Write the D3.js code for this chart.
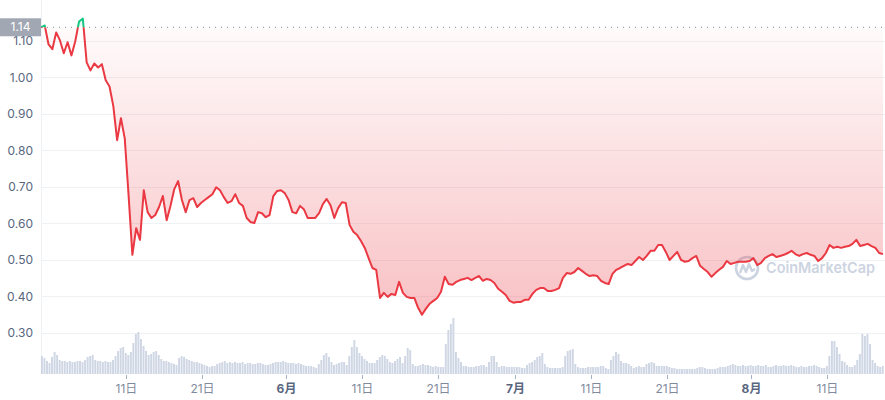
<!DOCTYPE html>
<html><head><meta charset="utf-8">
<script src="https://cdn.jsdelivr.net/npm/d3@7"></script>
<style>body{margin:0;background:#fff;} svg{display:block;font-family:Inter, "Noto Sans CJK SC", sans-serif;}</style>
</head><body><svg id="c" width="885" height="400"></svg>
<script>
const startDate = new Date(2022, 3, 29, 20);
const priceStepHours = 12;
const volumeStepHours = 8;

const prices = [
1.137, 1.142, 1.090, 1.077, 1.123, 1.101, 1.066, 1.096, 1.060, 1.098,
1.153, 1.161, 1.041, 1.019, 1.038, 1.027, 1.036, 0.992, 0.975, 0.921,
0.828, 0.888, 0.833, 0.678, 0.514, 0.587, 0.555, 0.691, 0.631, 0.615,
0.623, 0.645, 0.675, 0.609, 0.648, 0.694, 0.716, 0.664, 0.631, 0.664,
0.669, 0.645, 0.656, 0.664, 0.672, 0.680, 0.699, 0.691, 0.672,
0.656, 0.661, 0.680, 0.656, 0.648, 0.615, 0.604, 0.601, 0.631, 0.628,
0.617, 0.623, 0.675, 0.689, 0.691, 0.683, 0.664, 0.631, 0.628, 0.648,
0.639, 0.615, 0.615, 0.615, 0.628, 0.653, 0.667, 0.650, 0.615, 0.642,
0.658, 0.656, 0.596, 0.577, 0.568, 0.552, 0.533, 0.505, 0.478, 0.473,
0.396, 0.410, 0.399, 0.407, 0.404, 0.440, 0.410, 0.399, 0.396, 0.396,
0.369, 0.350, 0.366, 0.380, 0.388, 0.396, 0.413, 0.454, 0.434, 0.432,
0.440, 0.445, 0.448, 0.451, 0.445, 0.451, 0.456, 0.443, 0.448, 0.445,
0.437, 0.421, 0.413, 0.404, 0.388, 0.383, 0.385, 0.385, 0.391, 0.391,
0.407, 0.418, 0.423, 0.423, 0.415, 0.415, 0.418, 0.423, 0.451, 0.464,
0.462, 0.467, 0.478, 0.470, 0.462, 0.456, 0.458,
0.456, 0.443, 0.437, 0.434, 0.462, 0.473, 0.478, 0.484, 0.489, 0.486,
0.497, 0.508, 0.500, 0.511, 0.525, 0.525, 0.541, 0.541, 0.522, 0.500,
0.511, 0.522, 0.500, 0.495, 0.497, 0.505, 0.511, 0.484, 0.475, 0.467,
0.454, 0.464, 0.473, 0.481, 0.497, 0.489, 0.492, 0.495, 0.495, 0.495,
0.497, 0.505, 0.486, 0.492, 0.505, 0.511, 0.516, 0.508, 0.511, 0.514,
0.519, 0.525, 0.516, 0.511, 0.516, 0.519, 0.514, 0.511, 0.497, 0.505,
0.519, 0.541, 0.533, 0.536, 0.533, 0.536, 0.538, 0.544, 0.555, 0.538,
0.541, 0.544, 0.538, 0.533, 0.519, 0.516
];

const volumes = [
18,16,13,11,17,22,19,14,13,13,
12,13,12,12,13,13,12,14,17,18,
19,14,13,13,12,13,12,12,14,18,
23,26,27,21,19,22,31,40,42,35,
28,23,19,20,22,23,19,15,13,13,12,
11,10,9,16,18,17,15,14,13,12,
12,11,10,9,8,7,8,8,10,11,
12,13,11,12,11,12,11,11,12,10,
11,11,10,10,11,11,10,9,9,10,
11,12,12,12,13,12,11,11,11,10,
11,10,9,8,8,8,7,6,10,14,
19,21,17,12,9,10,11,12,12,9,
18,27,34,27,21,18,15,13,11,11,
11,14,17,19,18,15,12,11,13,15,
17,11,18,26,24,10,8,8,9,10,9,
9,8,7,8,7,7,7,30,44,50,
56,22,16,12,8,8,7,7,7,8,
8,9,9,7,12,18,18,12,7,8,
8,7,7,7,7,7,7,6,6,9,
11,12,14,17,18,21,10,7,6,6,
6,6,6,7,18,23,24,25,10,7,
6,6,6,7,7,7,7,7,8,8,
6,5,14,18,22,20,13,11,11,10,
8,6,7,8,7,7,10,11,12,11,
8,8,8,8,8,7,6,6,5,5,5,
5,5,5,5,5,6,7,7,6,5,
5,5,5,6,7,7,7,8,9,10,
9,8,8,9,8,8,9,8,8,9,
8,8,9,7,7,8,9,8,8,9,
8,8,9,8,7,7,8,7,7,8,
8,9,8,7,6,6,8,18,33,33,
27,20,13,12,9,7,7,9,14,20,
40,38,40,30,14,11,8,7,8
];

const yTicks = [0.30, 0.40, 0.50, 0.60, 0.70, 0.80, 0.90, 1.00, 1.10];
const xTickDates = ["2022-05-11","2022-05-21","2022-06-01","2022-06-11","2022-06-21","2022-07-01","2022-07-11","2022-07-21","2022-08-01","2022-08-11"];
const xTickLabels = ["11日","21日","6月","11日","21日","7月","11日","21日","8月","11日"];
const xTickIsMonth = [false,false,true,false,false,true,false,false,true,false];

const HOUR = 3600 * 1000;
const priceData = prices.map((v, i) => ({date: new Date(startDate.getTime() + i * priceStepHours * HOUR), v}));
const volData = volumes.map((v, i) => ({date: new Date(startDate.getTime() + i * volumeStepHours * HOUR), v}));
const parseDay = d3.timeParse("%Y-%m-%d");

const svg = d3.select("#c");
const left = 41, right = 885;
const x = d3.scaleTime().domain([new Date(2022, 3, 30), new Date(2022, 7, 11)]).range([42.2, 827.1]);
const y = d3.scaleLinear().domain([0.3, 1.1]).range([333, 40.8]);
const yVol = d3.scaleLinear().domain([0, 60]).range([374, 314]);
const base = prices[0];
const yb = y(base);

const defs = svg.append("defs");
const gr = defs.append("linearGradient").attr("id","gRed").attr("gradientUnits","userSpaceOnUse")
  .attr("x1",0).attr("x2",0).attr("y1",yb).attr("y2",330);
gr.append("stop").attr("offset",0).attr("stop-color","#ea3943").attr("stop-opacity",0.02);
gr.append("stop").attr("offset",1).attr("stop-color","#ea3943").attr("stop-opacity",0.33);
const gg = defs.append("linearGradient").attr("id","gGreen").attr("gradientUnits","userSpaceOnUse")
  .attr("x1",0).attr("x2",0).attr("y1",yb).attr("y2",10);
gg.append("stop").attr("offset",0).attr("stop-color","#16c784").attr("stop-opacity",0.05);
gg.append("stop").attr("offset",1).attr("stop-color","#16c784").attr("stop-opacity",0.3);
defs.append("clipPath").attr("id","clipBelow").append("rect").attr("x",0).attr("y",yb).attr("width",885).attr("height",400);
defs.append("clipPath").attr("id","clipAbove").append("rect").attr("x",0).attr("y",0).attr("width",885).attr("height",yb);

// grid
svg.append("g").selectAll("line").data(yTicks).join("line")
  .attr("x1", left).attr("x2", right)
  .attr("y1", d => Math.round(y(d)) + 0.5).attr("y2", d => Math.round(y(d)) + 0.5)
  .attr("stroke", "#eff2f5").attr("stroke-width", 1);
svg.append("line").attr("x1", left + 0.5).attr("x2", left + 0.5).attr("y1", 0).attr("y2", 374)
  .attr("stroke", "#eff2f5");

// y labels
svg.append("g").selectAll("text").data(yTicks).join("text")
  .attr("x", 33).attr("y", d => y(d)).attr("dy", "0.35em")
  .attr("text-anchor", "end").attr("font-size", 12).attr("fill", "#58667e")
  .text(d3.format(".2f"));

// volume bars
const barW = (x(new Date(2022,4,2)) - x(new Date(2022,4,1))) / 3 - 0.6;
svg.append("g").selectAll("rect").data(volData).join("rect")
  .attr("x", d => x(d.date)).attr("width", barW)
  .attr("y", d => yVol(d.v)).attr("height", d => yVol(0) - yVol(d.v))
  .attr("fill", "#cfd6e4");

// x ticks
const xt = svg.append("g");
xTickDates.forEach((s, i) => {
  const px = Math.round(x(parseDay(s))) + 0.5;
  xt.append("line").attr("x1", px).attr("x2", px).attr("y1", 375).attr("y2", 379).attr("stroke", "#a6b0c3");
  xt.append("text").attr("x", px).attr("y", 393).attr("text-anchor", "middle")
    .attr("font-size", 12)
    .attr("font-weight", xTickIsMonth[i] ? 700 : 400)
    .attr("fill", xTickIsMonth[i] ? "#58667e" : "#808a9d")
    .text(xTickLabels[i]);
});

// watermark
const wm = svg.append("g").attr("transform", "translate(747,268)");
wm.append("circle").attr("r", 11).attr("fill", "none").attr("stroke", "#cdd4e1").attr("stroke-width", 2.6);
wm.append("path").attr("d", "M-7,5 L-4,-3 L-1,4 L2,-4 L5,3 L8,1")
  .attr("fill", "none").attr("stroke", "#cdd4e1").attr("stroke-width", 2.4).attr("stroke-linejoin", "round");
wm.append("text").attr("x", 19).attr("y", 0).attr("dy", "0.36em").attr("font-size", 15)
  .attr("font-weight", 600).attr("fill", "#cdd4e1")
  .attr("textLength", 109).attr("lengthAdjust", "spacingAndGlyphs").text("CoinMarketCap");

// area + line
const area = d3.area().x(d => x(d.date)).y0(yb).y1(d => y(d.v));
const line = d3.line().x(d => x(d.date)).y(d => y(d.v));
svg.append("path").datum(priceData).attr("d", area).attr("fill", "url(#gRed)").attr("clip-path", "url(#clipBelow)");
svg.append("path").datum(priceData).attr("d", area).attr("fill", "url(#gGreen)").attr("clip-path", "url(#clipAbove)");

// baseline
svg.append("line").attr("x1", left).attr("x2", right).attr("y1", yb).attr("y2", yb)
  .attr("stroke", "#808a9d").attr("stroke-width", 1).attr("stroke-dasharray", "1,5");

svg.append("path").datum(priceData).attr("d", line).attr("fill", "none")
  .attr("stroke", "#ea3943").attr("stroke-width", 2).attr("stroke-linejoin", "round").attr("clip-path", "url(#clipBelow)");
svg.append("path").datum(priceData).attr("d", line).attr("fill", "none")
  .attr("stroke", "#16c784").attr("stroke-width", 2).attr("stroke-linejoin", "round").attr("clip-path", "url(#clipAbove)");

// base label
svg.append("rect").attr("x", 0).attr("y", yb - 9).attr("width", 41).attr("height", 18).attr("fill", "#a1a7b3");
svg.append("text").attr("x", 20.5).attr("y", yb).attr("dy", "0.35em").attr("text-anchor", "middle")
  .attr("font-size", 12).attr("fill", "#ffffff").text(d3.format(".2f")(base));
</script></body></html>
